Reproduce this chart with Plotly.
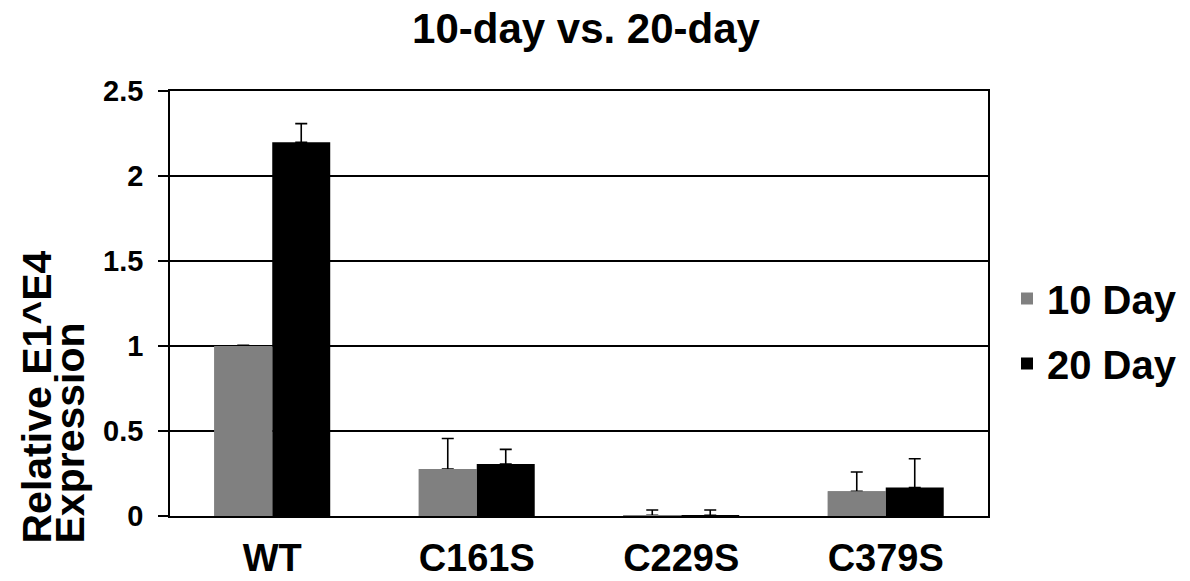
import plotly.graph_objects as go

categories = ["WT", "C161S", "C229S", "C379S"]
series_names = ["10 Day", "20 Day"]
values_10 = [1.0, 0.276, 0.004, 0.145]
values_20 = [2.198, 0.306, 0.004, 0.167]
err_10 = [0.004, 0.18, 0.031, 0.114]
err_20 = [0.11, 0.086, 0.031, 0.17]
colors = ["#808080", "#000000"]
y_ticks = [0, 0.5, 1, 1.5, 2, 2.5]

FONT = "Liberation Sans, Arial, sans-serif"
W, H = 1190, 581
L, T = 170, 91
PW, PH = 818, 425
R, B = W - L - PW, H - T - PH

fig = go.Figure()
groups = ["g10", "g20"]
for name, vals, errs, col, grp in zip(series_names, [values_10, values_20], [err_10, err_20], colors, groups):
    fig.add_trace(go.Bar(
        x=categories, y=vals, name=name, legendgroup=name, offsetgroup=grp,
        marker=dict(color=col, line=dict(width=0)),
        error_y=dict(type="data", array=errs, arrayminus=[0] * len(errs),
                     symmetric=False, color="#000000", thickness=1.6, width=6),
    ))
# same 10-day bars again (no error bars) so the lower caps sit hidden under the grey fill
fig.add_trace(go.Bar(
    x=categories, y=values_10, name=series_names[0], legendgroup=series_names[0],
    offsetgroup="g10", showlegend=False, hoverinfo="skip",
    marker=dict(color=colors[0], line=dict(width=0)),
))

def px_x(sx):
    return (sx - L) / PW
def px_y(sy):
    return (T + PH - sy) / PH

fig.update_layout(
    width=W, height=H,
    margin=dict(l=L, r=R, t=T, b=B, pad=0, autoexpand=False),
    paper_bgcolor="white", plot_bgcolor="white",
    barmode="group", bargap=0.433, bargroupgap=0,
    font=dict(family=FONT, color="#000000", weight="bold"),
    title=dict(text="10-day vs. 20-day", x=586 / W, xref="container", xanchor="center",
               y=1 - 28 / H, yref="container", yanchor="middle",
               font=dict(size=42, family=FONT, color="#000000", weight="bold")),
    legend=dict(x=px_x(1007), xanchor="left", y=px_y(331), yanchor="middle",
                font=dict(size=40, family=FONT, color="#000000", weight="bold"),
                bgcolor="rgba(0,0,0,0)", tracegroupgap=10),
    xaxis=dict(showline=True, linecolor="#000000", linewidth=1.6, mirror=True,
               ticks="", tickfont=dict(size=38, family=FONT, weight="bold"),
               ticklabelstandoff=8, automargin=False),
    yaxis=dict(range=[0, 2.5], tickvals=y_ticks, ticktext=[str(v) if v % 1 else str(int(v)) for v in y_ticks],
               showline=True, linecolor="#000000", linewidth=1.6, mirror=True,
               ticks="outside", ticklen=10, tickwidth=1.6, tickcolor="#000000",
               showgrid=True, gridcolor="#000000", gridwidth=1.6, zeroline=False,
               tickfont=dict(size=29, family=FONT, weight="bold"),
               ticklabelstandoff=9, automargin=False),
)

for txt, cx in [("Relative E1^E4", 36), ("Expression", 69)]:
    fig.add_annotation(text=txt, textangle=-90, xref="paper", yref="paper",
                       x=px_x(cx), y=px_y(545), xanchor="center", yanchor="bottom",
                       showarrow=False, borderpad=0,
                       font=dict(size=41, family=FONT, color="#000000", weight="bold"))

fig.write_html("out.html", config={"displayModeBar": False},
               post_script="document.body.style.margin='0px';")
